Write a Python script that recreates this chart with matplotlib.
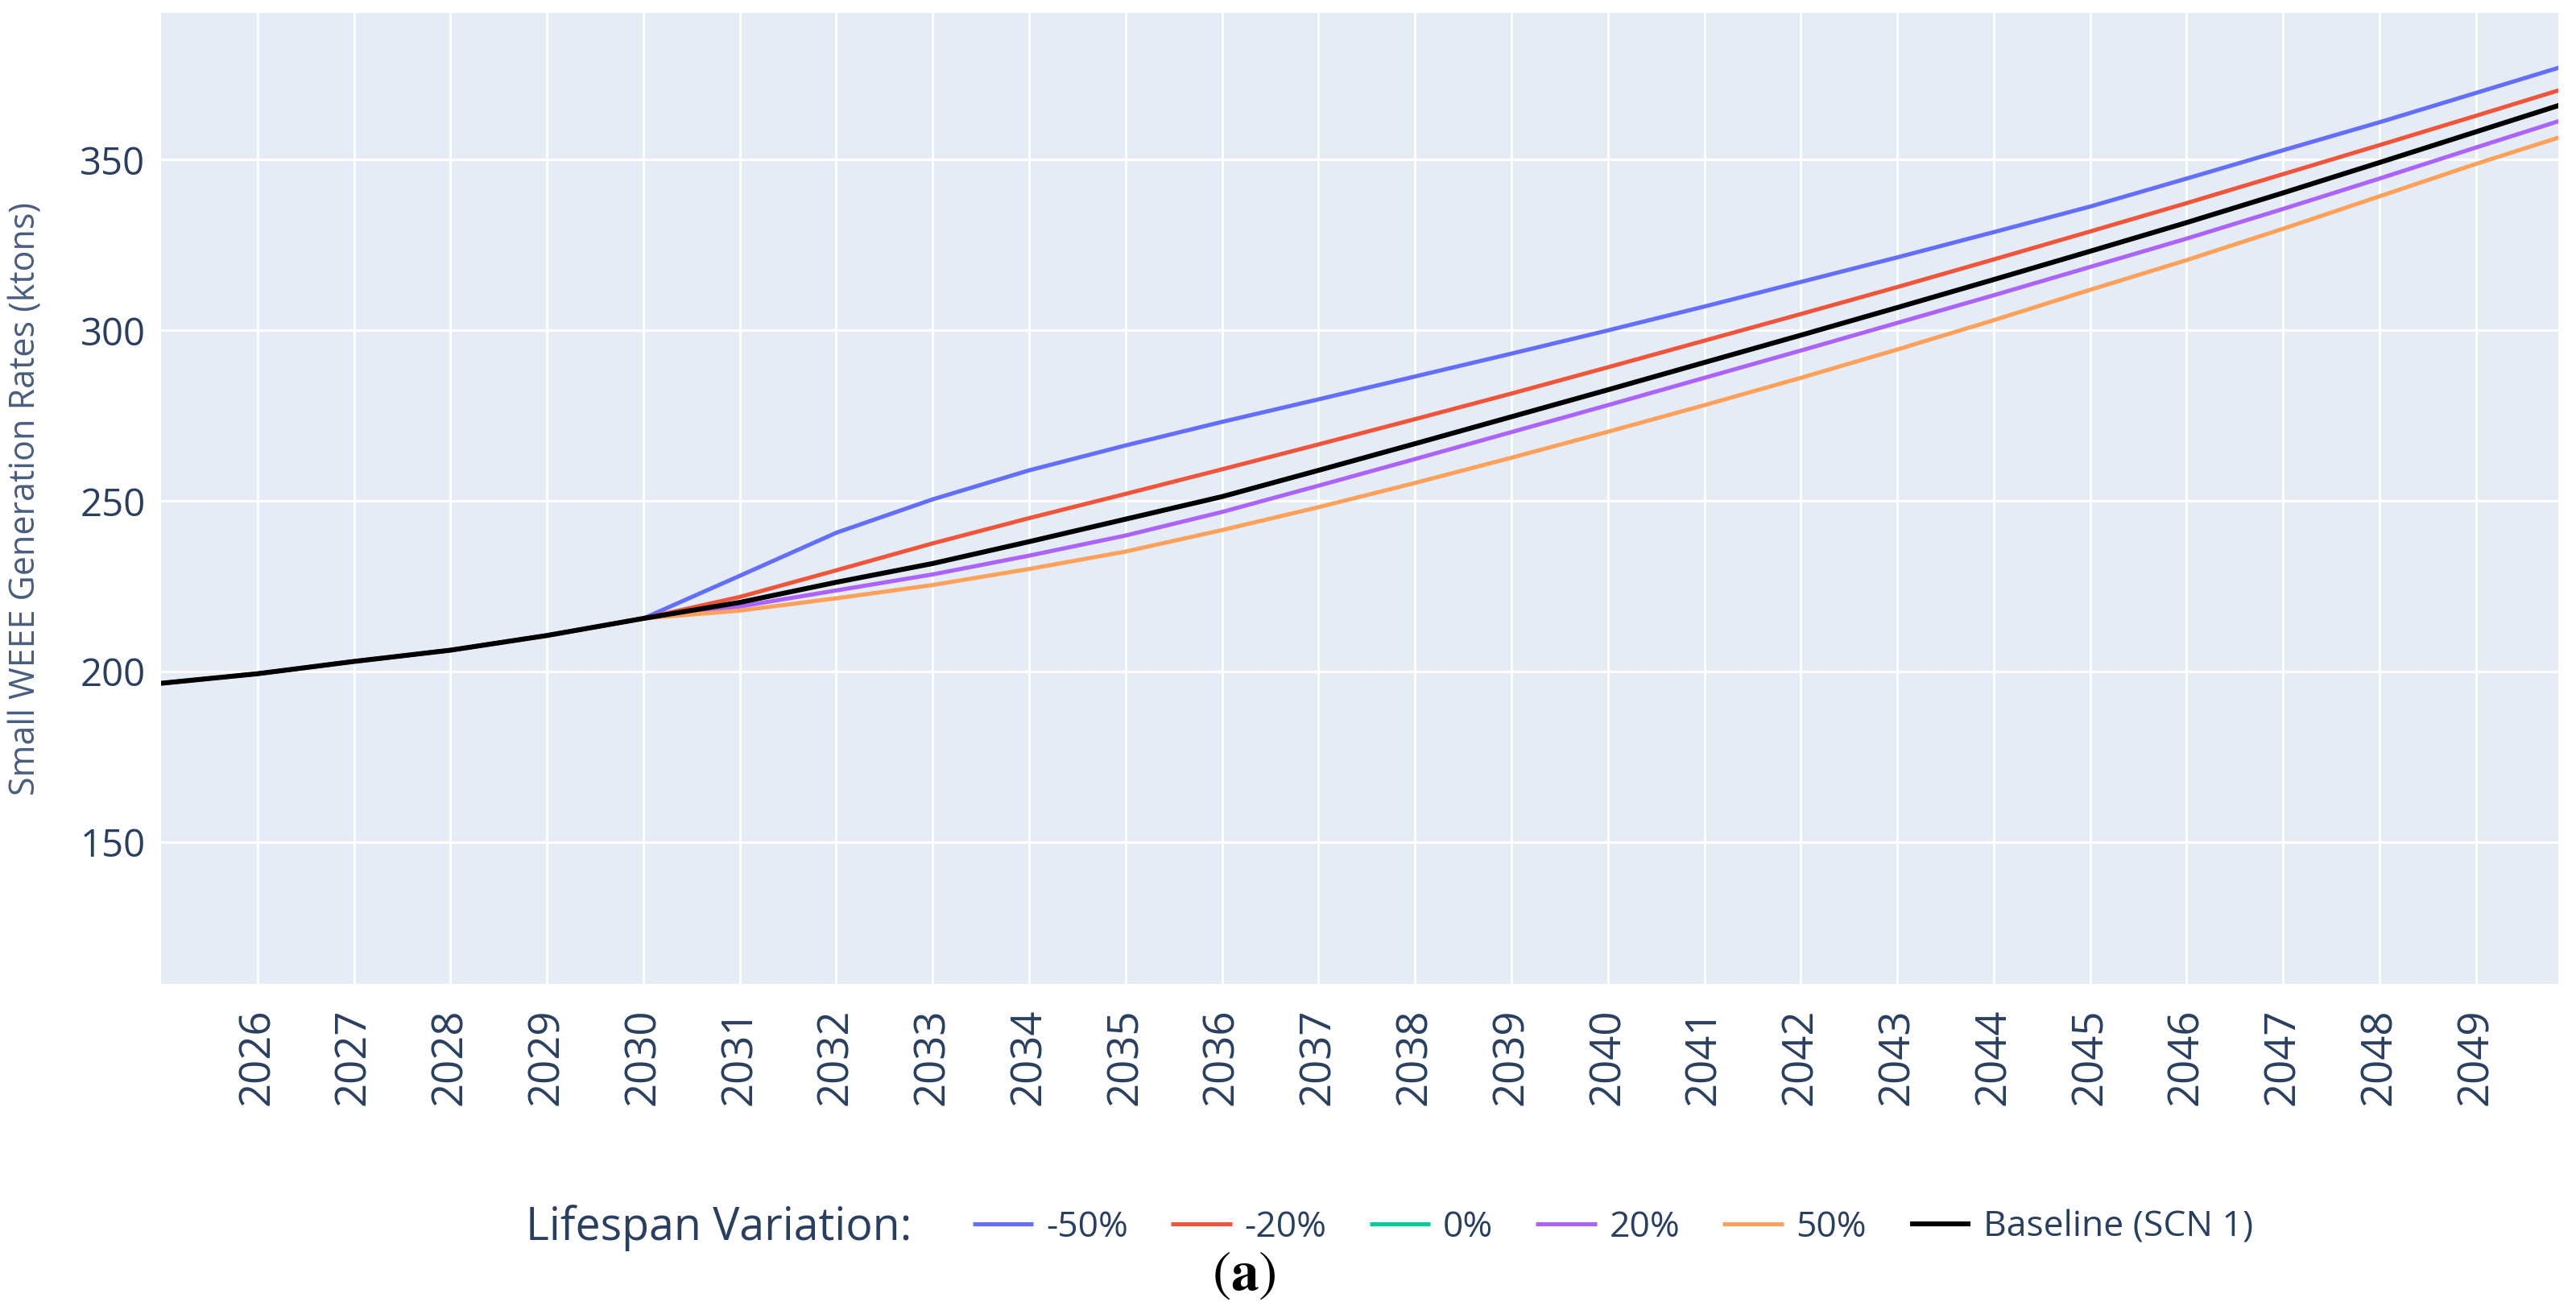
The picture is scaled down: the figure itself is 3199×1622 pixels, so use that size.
import numpy as np
import matplotlib
matplotlib.use("Agg")
from matplotlib import pyplot as plt

plt.rcParams['font.family'] = ['Open Sans', 'DejaVu Sans']
plt.rcParams['mathtext.fontset'] = 'stix'

years = list(range(2025, 2051))

# shared history 2025-2030
common = [196.6, 199.4, 203.0, 206.3, 210.6, 215.6]

minus50 = common + [228.1, 240.7, 250.5, 259.0, 266.3, 273.2, 279.8, 286.5, 293.2,
                    300.0, 307.0, 314.2, 321.4, 328.8, 336.3, 344.5, 352.8, 361.0,
                    369.6, 378.2]
minus20 = common + [221.9, 229.7, 237.6, 245.0, 252.1, 259.3, 266.6, 274.0, 281.5,
                    289.2, 297.0, 304.8, 312.7, 320.8, 329.0, 337.3, 345.8, 354.3,
                    362.9, 371.6]
baseline = common + [220.3, 226.2, 231.7, 238.1, 244.7, 251.3, 259.0, 266.8, 274.7,
                     282.6, 290.6, 298.6, 306.7, 314.9, 323.2, 331.6, 340.3, 349.2,
                     358.2, 367.2]
zero = list(baseline)
plus20 = common + [219.1, 223.8, 228.5, 234.0, 239.9, 246.8, 254.5, 262.3, 270.2,
                   278.1, 286.1, 294.1, 302.2, 310.3, 318.6, 326.9, 335.6, 344.5,
                   353.6, 362.6]
plus50 = common + [217.9, 221.5, 225.4, 230.1, 235.2, 241.5, 248.2, 255.3, 262.7,
                   270.3, 278.1, 286.1, 294.4, 303.0, 311.9, 320.6, 329.8, 339.3,
                   348.8, 357.8]

series = [
    ("-50%", minus50, "#636EFA"),
    ("-20%", minus20, "#EF553B"),
    ("0%", zero, "#00CC96"),
    ("20%", plus20, "#AB63FA"),
    ("50%", plus50, "#FFA15A"),
    ("Baseline (SCN 1)", baseline, "black"),
]

tick_years = list(range(2026, 2050))
y_ticks = [150, 200, 250, 300, 350]

text_col = "#2a3f5f"

fig = plt.figure(figsize=(31.99, 16.22), dpi=100)
ax = fig.add_axes([0.0625, 0.2466, 0.9305, 0.7434])
ax.set_facecolor("#E5ECF6")
for s in ax.spines.values():
    s.set_visible(False)

handles = []
for name, vals, col in series:
    lw = 4.4 if col == "black" else 3.7
    h, = ax.plot(years, vals, color=col, lw=lw, label=name, solid_capstyle="butt")
    handles.append(h)

ax.set_xlim(2025, 2049.85)
ax.set_ylim(108.5, 393)
ax.set_xticks(tick_years)
ax.set_xticklabels([str(y) for y in tick_years], rotation=90)
ax.set_yticks(y_ticks)
ax.grid(True, color="white", lw=2.2)
ax.set_axisbelow(True)
ax.tick_params(axis="both", length=0, labelcolor=text_col)
ax.tick_params(axis="x", pad=22, labelsize=38)
ax.tick_params(axis="y", pad=14, labelsize=34)

ax.set_ylabel("Small WEEE Generation Rates (ktons)", fontsize=31, color="#4a5d7e")
ax.yaxis.set_label_coords(-0.049, 0.5)

leg_y = 0.06
fig.text(0.204, leg_y, "Lifespan Variation:", fontsize=40, color=text_col,
         ha="left", va="center")
fig.legend(handles=handles, loc="center left", bbox_to_anchor=(0.372, leg_y), ncol=6,
           frameon=False, fontsize=32, labelcolor=text_col, handlelength=1.7,
           handletextpad=0.35, columnspacing=1.2, borderaxespad=0)

fig.text(0.483, 0.002, r"$(\mathbf{a})$", fontsize=50, ha="center", va="bottom")

fig.savefig("out.png", dpi=100)
